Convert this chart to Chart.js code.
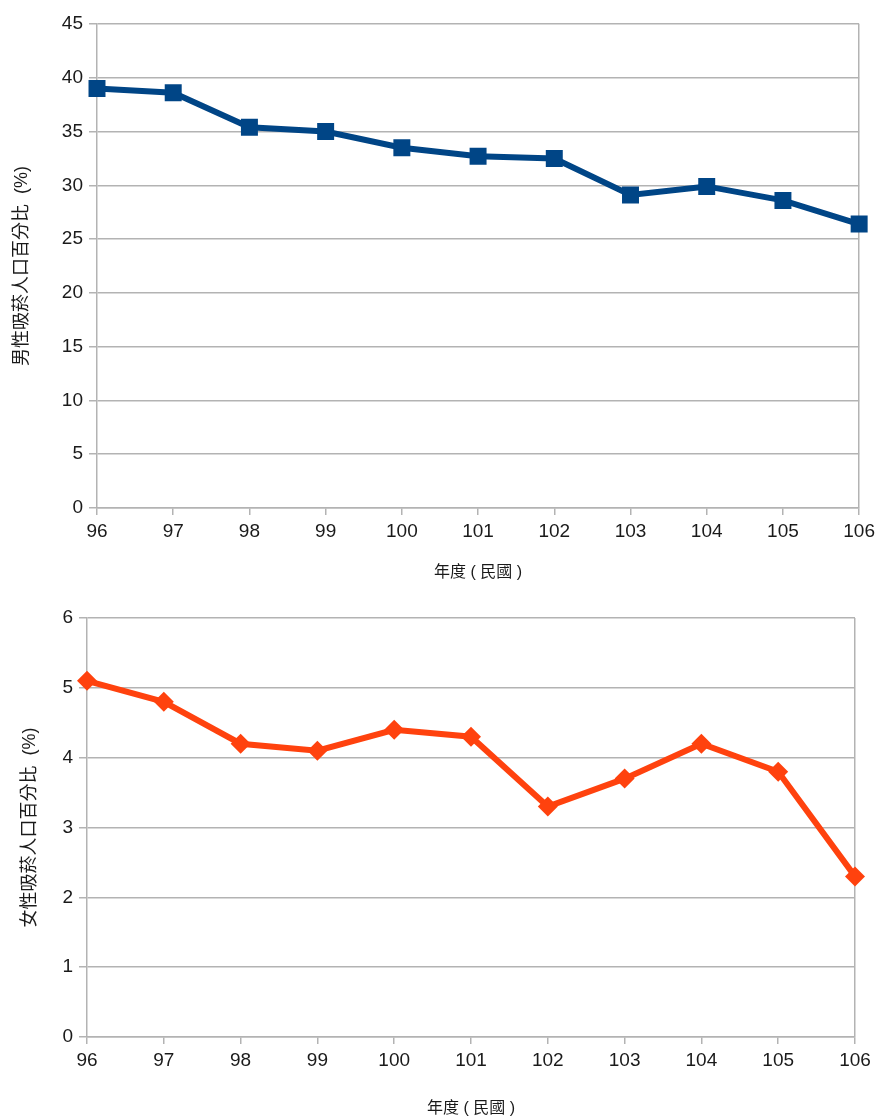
<!DOCTYPE html>
<html>
<head>
<meta charset="utf-8">
<script src="https://cdn.jsdelivr.net/npm/chart.js@4/dist/chart.umd.min.js"></script>
<style>
html,body{margin:0;padding:0;background:#fff;}
#wrap{position:relative;width:880px;height:1119px;}
#c1{position:absolute;left:0;top:0;}
#c2{position:absolute;left:0;top:590px;}
</style>
</head>
<body>
<div id="wrap">
<canvas id="c1" width="880" height="590"></canvas>
<canvas id="c2" width="880" height="529"></canvas>
</div>
<script>
const years = ['96','97','98','99','100','101','102','103','104','105','106'];
const maleValues = [39.0, 38.6, 35.4, 35.0, 33.5, 32.7, 32.5, 29.1, 29.9, 28.6, 26.4];
const femaleValues = [5.1, 4.8, 4.2, 4.1, 4.4, 4.3, 3.3, 3.7, 4.2, 3.8, 2.3];
const maleTitle = '男性吸菸人口百分比  (%)';
const femaleTitle = '女性吸菸人口百分比  (%)';
const xTitle = '年度 ( 民國 )';

const FONT = "'Liberation Sans', Arial, 'Noto Sans CJK TC', sans-serif";
const GRID = '#b3b3b3';
const TEXT = '#1a1a1a';

function makeChart(id, values, color, pointStyle, radius, yMax, yStep, yTitle, opts) {
  const n = years.length;
  return new Chart(document.getElementById(id), {
    type: 'line',
    data: {
      labels: years,
      datasets: [{
        data: values,
        borderColor: color,
        backgroundColor: color,
        borderWidth: 6,
        pointStyle: pointStyle,
        pointRadius: radius,
        pointHoverRadius: radius,
        pointBorderWidth: 0,
        tension: 0,
        fill: false
      }]
    },
    options: {
      responsive: false,
      animation: false,
      devicePixelRatio: 1,
      plugins: { legend: { display: false }, tooltip: { enabled: false } },
      layout: { padding: opts.padding },
      scales: {
        x: {
          type: 'category',
          offset: false,
          grid: {
            color: (ctx) => (ctx.index === n - 1 ? GRID : 'rgba(0,0,0,0)'),
            tickColor: GRID,
            tickLength: 7,
            lineWidth: 1.5,
            drawOnChartArea: true
          },
          border: { display: true, color: GRID, width: 1.5 },
          ticks: {
            color: TEXT,
            font: { family: FONT, size: 19 },
            padding: 5,
            maxRotation: 0,
            autoSkip: false
          },
          title: {
            display: true,
            text: xTitle,
            color: TEXT,
            font: { family: FONT, size: 16 },
            padding: opts.xTitlePad
          },
          afterFit: (s) => { s.height = opts.xHeight; }
        },
        y: {
          min: 0,
          max: yMax,
          grid: {
            color: GRID,
            tickColor: GRID,
            tickLength: 8,
            lineWidth: 1.5
          },
          border: { display: true, color: GRID, width: 1.5 },
          ticks: {
            stepSize: yStep,
            color: TEXT,
            font: { family: FONT, size: 19 },
            padding: 6
          },
          title: {
            display: true,
            text: yTitle,
            color: TEXT,
            font: { family: FONT, size: 18 },
            padding: opts.yTitlePad
          },
          afterFit: (s) => { s.width = opts.yWidth; }
        }
      }
    }
  });
}

makeChart('c1', maleValues, '#004586', 'rect', 12, 45, 5, maleTitle, {
  padding: { left: 0, right: 20, top: 24, bottom: 0 },
  yWidth: 97, xHeight: 82,
  xTitlePad: { top: 4, bottom: 8 },
  yTitlePad: { top: 11, bottom: 4 }
});

makeChart('c2', femaleValues, '#ff420e', 'rectRot', 10, 6, 1, femaleTitle, {
  padding: { left: 0, right: 25, top: 28, bottom: 0 },
  yWidth: 87, xHeight: 82,
  xTitlePad: { top: 4, bottom: 1 },
  yTitlePad: { top: 19, bottom: 4 }
});
</script>
</body>
</html>
